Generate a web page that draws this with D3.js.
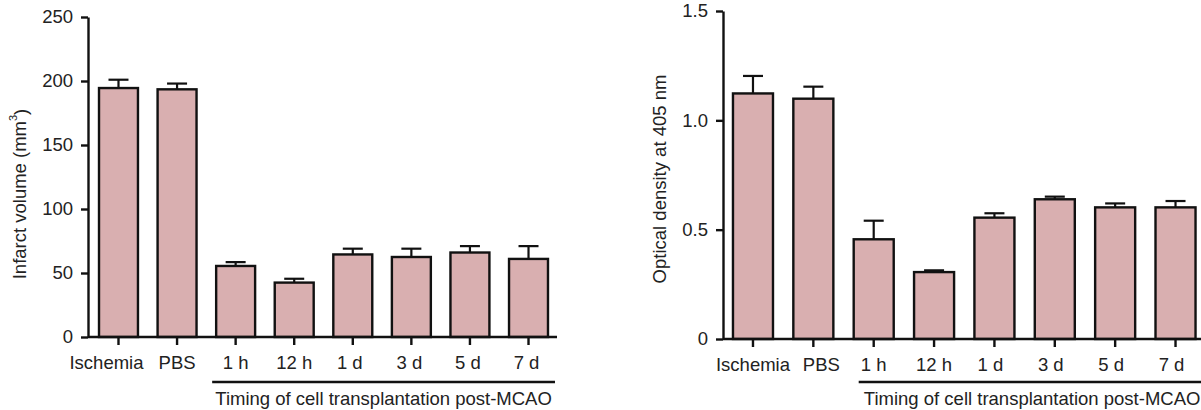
<!DOCTYPE html>
<html>
<head>
<meta charset="utf-8">
<script src="https://cdn.jsdelivr.net/npm/d3@7.9.0/dist/d3.min.js"></script>
<style>
  body { margin: 0; background: #fff; }
  svg { display: block; font-family: Arial, "Liberation Sans", sans-serif; }
  .axis path, .axis line { stroke: #111; stroke-width: 2.4; }
  .axis text { font-size: 18.5px; fill: #222; }
</style>
</head>
<body>
<svg id="chart" width="1201" height="410"></svg>
<script>
const categories = ["Ischemia", "PBS", "1 h", "12 h", "1 d", "3 d", "5 d", "7 d"];

// infarct volume (mm3), mean and error
const infarctMean = [194.5, 193.5, 55.5, 42.5, 64.5, 62.5, 66, 61];
const infarctErr  = [6.5, 4.5, 3, 3, 4.5, 6.5, 5, 10];
const infarctTicks = [0, 50, 100, 150, 200, 250];

// optical density at 405 nm
const odMean = [1.123, 1.099, 0.456, 0.306, 0.555, 0.639, 0.602, 0.602];
const odErr  = [0.08, 0.055, 0.085, 0.008, 0.02, 0.012, 0.018, 0.029];
const odTicks = [0, 0.5, 1.0, 1.5];

const groupLabel = "Timing of cell transplantation post-MCAO";
const timedGroups = ["1 h", "7 d"];

const BAR_FILL = "#d9afb0";
const svg = d3.select("#chart");

function drawPanel(opt) {
  const g = svg.append("g");

  const x = d3.scaleBand()
    .domain(categories)
    .range(opt.xRange)
    .paddingInner(opt.padInner)
    .paddingOuter(opt.padInner / 2);

  const y = d3.scaleLinear().domain(opt.yDomain).range(opt.yRange);
  const x0 = opt.axisX;

  // bars
  g.selectAll("rect.bar")
    .data(opt.mean)
    .join("rect")
    .attr("class", "bar")
    .attr("x", (d, i) => x(categories[i]))
    .attr("y", d => y(d))
    .attr("width", x.bandwidth())
    .attr("height", d => y(0) - y(d))
    .attr("fill", BAR_FILL)
    .attr("stroke", "#111")
    .attr("stroke-width", 2.4);

  // error bars (upper only)
  const eb = g.selectAll("g.err")
    .data(opt.mean.map((m, i) => ({ m, e: opt.err[i], c: categories[i] })))
    .join("g")
    .attr("class", "err")
    .attr("transform", d => `translate(${x(d.c) + x.bandwidth() / 2},0)`)
    .attr("stroke", "#111")
    .attr("stroke-width", 2.2);
  eb.append("line")
    .attr("y1", d => y(d.m))
    .attr("y2", d => y(d.m + d.e));
  eb.append("line")
    .attr("x1", -10).attr("x2", 10)
    .attr("y1", d => y(d.m + d.e))
    .attr("y2", d => y(d.m + d.e));

  // y axis
  g.append("g")
    .attr("class", "axis")
    .attr("transform", `translate(${x0},0)`)
    .call(d3.axisLeft(y).tickValues(opt.ticks).tickFormat(opt.fmt).tickSize(7).tickSizeOuter(0).tickPadding(8));

  // x axis
  const xa = g.append("g")
    .attr("class", "axis")
    .attr("transform", `translate(0,${y(0)})`)
    .call(d3.axisBottom(x).tickSize(8).tickSizeOuter(0).tickPadding(8));
  xa.select(".domain").attr("d", `M${x0},0H${opt.xAxisEnd}`);
  xa.selectAll(".tick text")
    .attr("dy", "0.85em")
    .attr("dx", (d, i) => opt.labelShift[i]);

  // y label
  const yl = g.append("text")
    .attr("transform", `translate(${opt.yLabelPos[0]},${opt.yLabelPos[1]}) rotate(-90)`)
    .attr("text-anchor", "middle")
    .attr("dy", "0.35em")
    .attr("font-size", 18.5)
    .attr("fill", "#222");
  opt.yLabel(yl);

  // group bracket
  const lx1 = x(timedGroups[0]) + opt.lineOff[0];
  const lx2 = x(timedGroups[1]) + x.bandwidth() + opt.lineOff[1];
  g.append("line")
    .attr("x1", lx1).attr("x2", lx2)
    .attr("y1", opt.lineY).attr("y2", opt.lineY)
    .attr("stroke", "#111").attr("stroke-width", 2.4);
  g.append("text")
    .attr("x", (lx1 + lx2) / 2)
    .attr("y", opt.lineY + 23)
    .attr("text-anchor", "middle")
    .attr("font-size", 18.5)
    .attr("fill", "#222")
    .text(groupLabel);
}

drawPanel({
  mean: infarctMean, err: infarctErr, ticks: infarctTicks,
  fmt: d3.format("d"),
  xRange: [89.2, 557.8], padInner: 0.335, axisX: 88, xAxisEnd: 557,
  yDomain: [0, 250], yRange: [337, 17],
  labelShift: [-12, 0, 0, 0, -3, -2, -2, -2],
  yLabelPos: [20, 194],
  yLabel: t => {
    t.append("tspan").text("Infarct volume (mm");
    t.append("tspan").attr("font-size", 11).attr("dy", "-0.9em").text("3");
    t.append("tspan").attr("dy", "0.55em").text(")");
  },
  lineOff: [-4, 7], lineY: 382
});

drawPanel({
  mean: odMean, err: odErr, ticks: odTicks,
  fmt: d => d === 0 ? "0" : d3.format(".1f")(d),
  xRange: [722.8, 1205.7], padInner: 0.337, axisX: 723, xAxisEnd: 1201,
  yDomain: [0, 1.5], yRange: [339, 11],
  labelShift: [0, 8, 0, 0, -4, -4, -4, -4],
  yLabelPos: [660, 179],
  yLabel: t => t.text("Optical density at 405 nm"),
  lineOff: [5, 10], lineY: 382
});
</script>
</body>
</html>
